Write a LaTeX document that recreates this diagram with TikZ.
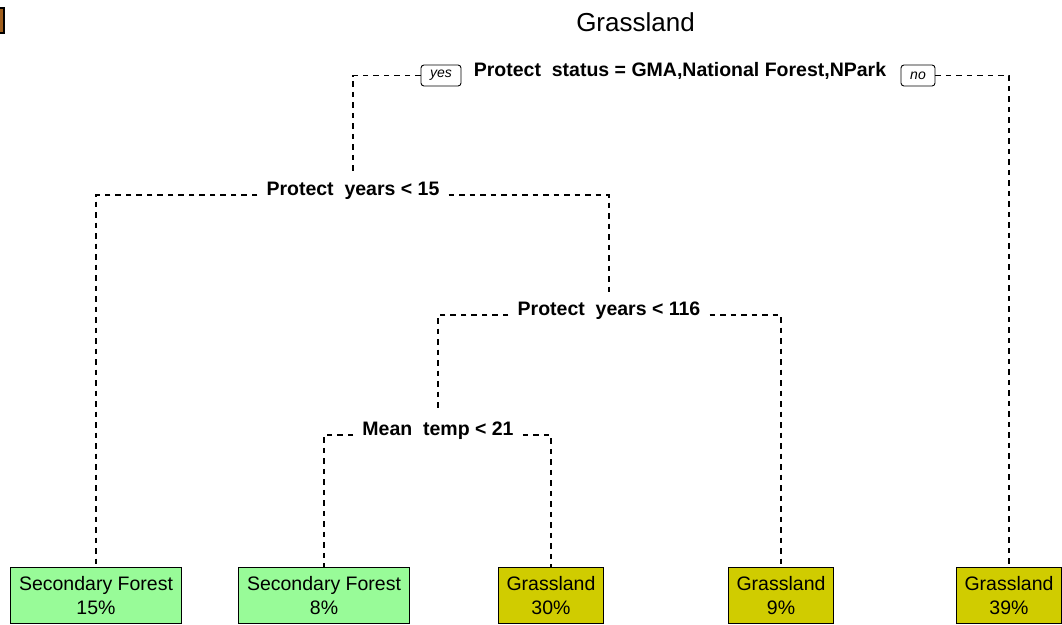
\documentclass[tikz,border=0pt]{standalone}
\usepackage{fontspec}
\setmainfont{Liberation Sans}
\begin{document}
\definecolor{leafgreen}{RGB}{152,251,152}
\definecolor{leafyellow}{RGB}{208,204,0}
\definecolor{legendbrown}{RGB}{160,95,30}
\begin{tikzpicture}[x=1pt,y=-1pt,
  edge/.style={draw=black, line width=1.1pt, dash pattern=on 5.5pt off 5pt},
  split/.style={anchor=base, inner xsep=9pt, inner ysep=9pt,
                font=\fontsize{19.5}{24}\selectfont\bfseries},
  leaf/.style={draw=black, line width=1.1pt, anchor=north, align=center,
               minimum height=56pt, inner xsep=8.5pt, inner ysep=2pt,
               font=\fontsize{19.5}{23.5}\selectfont},
  answer/.style={draw=black, line width=0.9pt, rounded corners=3pt,
                 minimum height=21pt, inner sep=1pt,
                 font=\fontsize{14}{16}\selectfont\itshape}]
\useasboundingbox (0,0) rectangle (1062,624);

% legend edge in the corner
\filldraw[fill=legendbrown, draw=black, line width=1.6pt] (-8,8) rectangle (4,33);

% title
\node[anchor=base, font=\fontsize{26}{30}\selectfont] (title) at (635.5,31) {Grassland};

% split labels
\node[split] (root) at (680,76) {Protect\ \ status = GMA,National Forest,NPark};
\node[split] (s1) at (353,195) {Protect\ \ years < 15};
\node[split] (s2) at (609,315) {Protect\ \ years < 116};
\node[split] (s3) at (438,435) {Mean\ \ temp < 21};

% yes / no tags beside the root split
\node[answer, minimum width=40pt] (yes) at (441,75.5) {yes};
\node[answer, minimum width=34pt] (no) at (918,75.5) {no};

% leaves
\node[leaf, fill=leafgreen] (l1) at (96,567) {Secondary Forest\\15\%};
\node[leaf, fill=leafgreen] (l2) at (324,567) {Secondary Forest\\8\%};
\node[leaf, fill=leafyellow] (l3) at (551,567) {Grassland\\30\%};
\node[leaf, fill=leafyellow] (l4) at (781,567) {Grassland\\9\%};
\node[leaf, fill=leafyellow] (l5) at (1009,567) {Grassland\\39\%};

% branches
\draw[edge] (yes.west) -| (s1.north);
\draw[edge] (no.east) -| (l5.north);
\draw[edge] (s1.base west) -| (l1.north);
\draw[edge] (s1.base east) -| (s2.north);
\draw[edge] (s2.base west) -| (s3.north);
\draw[edge] (s2.base east) -| (l4.north);
\draw[edge] (s3.base west) -| (l2.north);
\draw[edge] (s3.base east) -| (l3.north);
\end{tikzpicture}
\end{document}
